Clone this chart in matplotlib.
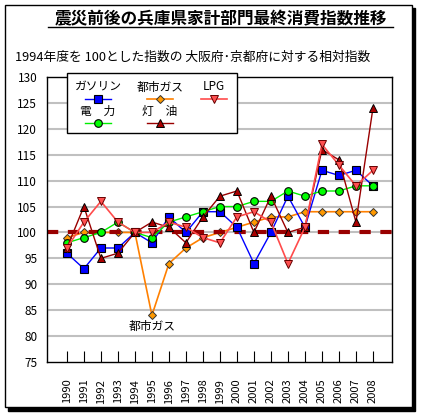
import matplotlib
matplotlib.use("Agg")
import matplotlib.pyplot as plt
from matplotlib.lines import Line2D
from matplotlib.patches import Rectangle

plt.rcParams['font.family'] = ['Noto Sans CJK JP', 'DejaVu Sans']

years = list(range(1990, 2009))

gasoline = [96, 93, 97, 97, 100, 98, 103, 100, 104, 104, 101, 94, 100, 107, 101, 112, 111, 112, 109]
city_gas = [99, 100, 100, 100, 100, 84, 94, 97, 99, 100, 101, 102, 103, 103, 104, 104, 104, 104, 104]
electricity = [98, 99, 100, 102, 100, 99, 102, 103, 104, 105, 105, 106, 106, 108, 107, 108, 108, 109, 109]
kerosene = [97, 105, 95, 96, 100, 102, 101, 98, 103, 107, 108, 100, 107, 100, 101, 116, 114, 102, 124]
lpg = [97, 102, 106, 102, 100, 100, 102, 101, 99, 98, 103, 104, 102, 94, 101, 117, 113, 109, 112]

labels = ["ガソリン", "都市ガス", "LPG", "電　力", "灯　油"]
yticks = [75, 80, 85, 90, 95, 100, 105, 110, 115, 120, 125, 130]

W, H = 422, 419

# line / marker styles
st_gas = dict(color="#0000ff", lw=1.0, marker="s", ms=5.5, mfc="#0000ff", mec="black", mew=0.8)
st_city = dict(color="#ff8000", lw=1.2, marker="D", ms=3.8, mfc="#ff9900", mec="#333333", mew=0.7)
st_elec = dict(color="#00ee00", lw=1.0, marker="o", ms=5.5, mfc="#00ff00", mec="black", mew=0.8)
st_kero = dict(color="#990000", lw=1.0, marker="^", ms=6, mfc="#aa0000", mec="black", mew=0.7)
st_lpg = dict(color="#ff4b4b", lw=1.2, marker="v", ms=6, mfc="#ff5050", mec="#660000", mew=0.7)

fig = plt.figure(figsize=(W / 100, H / 100), dpi=100)

# outer frame with shadow
fig.patches.append(Rectangle((8 / W, 1 - 411 / H), 407 / W, 403 / H, transform=fig.transFigure,
                             facecolor="black", edgecolor="black", zorder=-20))
fig.patches.append(Rectangle((5 / W, 1 - 407 / H), 407 / W, 402 / H, transform=fig.transFigure,
                             facecolor="white", edgecolor="black", lw=1, zorder=-19))

ax = fig.add_axes([47 / W, 1 - 362 / H, 345 / W, 285 / H])
ax.set_facecolor("white")

ax.set_xlim(1988.83, 2009.12)
ax.set_ylim(75, 130)
ax.set_yticks(yticks)
ax.set_xticks(years)
ax.set_xticklabels([str(y) for y in years], rotation=90, fontsize=8)
ax.tick_params(axis="y", length=0, pad=7, labelsize=8.5)
ax.tick_params(axis="x", direction="in", length=8, width=0.8, pad=12)
for s in ax.spines.values():
    s.set_color("black")
    s.set_linewidth(1)

for v in yticks:
    if 75 < v < 130:
        ax.axhline(v, color="#c0c0c0", lw=1.5, zorder=0.5)

ax.axhline(100, color="#990000", lw=3, ls=(0, (2.7, 2.3)), zorder=2.5)

ax.plot(years, gasoline, zorder=3, **st_gas)
ax.plot(years, city_gas, zorder=2, **st_city)
ax.plot(years, electricity, zorder=3, **st_elec)
ax.plot(years, kerosene, zorder=4, **st_kero)
ax.plot(years, lpg, zorder=5, **st_lpg)

ax.annotate("都市ガス", xy=(1995, city_gas[5]), xytext=(0, -3), textcoords="offset points",
            ha="center", va="top", fontsize=8.5)

# titles
fig.text(220.5 / W, 1 - 19 / H, "震災前後の兵庫県家計部門最終消費指数推移", ha="center", va="center",
         fontsize=12, fontweight="bold")
fig.add_artist(Line2D([48 / W, 393 / W], [1 - 27.5 / H, 1 - 27.5 / H], color="black", lw=1,
                      transform=fig.transFigure))
fig.text(15 / W, 1 - 57 / H, "1994年度を 100とした指数の 大阪府･京都府に対する相対指数",
         ha="left", va="center", fontsize=9.2)

# legend, labels above samples
fig.patches.append(Rectangle((67 / W, 1 - 133 / H), 170 / W, 60 / H, transform=fig.transFigure,
                             facecolor="white", edgecolor="black", lw=1, zorder=5))
leg = [(labels[0], st_gas, 98, 87), (labels[1], st_city, 160, 87), (labels[2], st_lpg, 214, 87),
       (labels[3], st_elec, 98, 111), (labels[4], st_kero, 160, 111)]
for lab, st, cx, ty in leg:
    fig.text(cx / W, 1 - ty / H, lab, ha="center", va="center", fontsize=8.5, zorder=6)
    yy = 1 - (ty + 12) / H
    fig.add_artist(Line2D([(cx - 13) / W, (cx + 13) / W], [yy, yy], transform=fig.transFigure,
                          zorder=6, color=st["color"], lw=st["lw"]))
    fig.add_artist(Line2D([cx / W], [yy], transform=fig.transFigure, zorder=7,
                          marker=st["marker"], ms=st["ms"], mfc=st["mfc"], mec=st["mec"],
                          mew=st["mew"], ls="none"))

fig.savefig("out.png", dpi=100)
